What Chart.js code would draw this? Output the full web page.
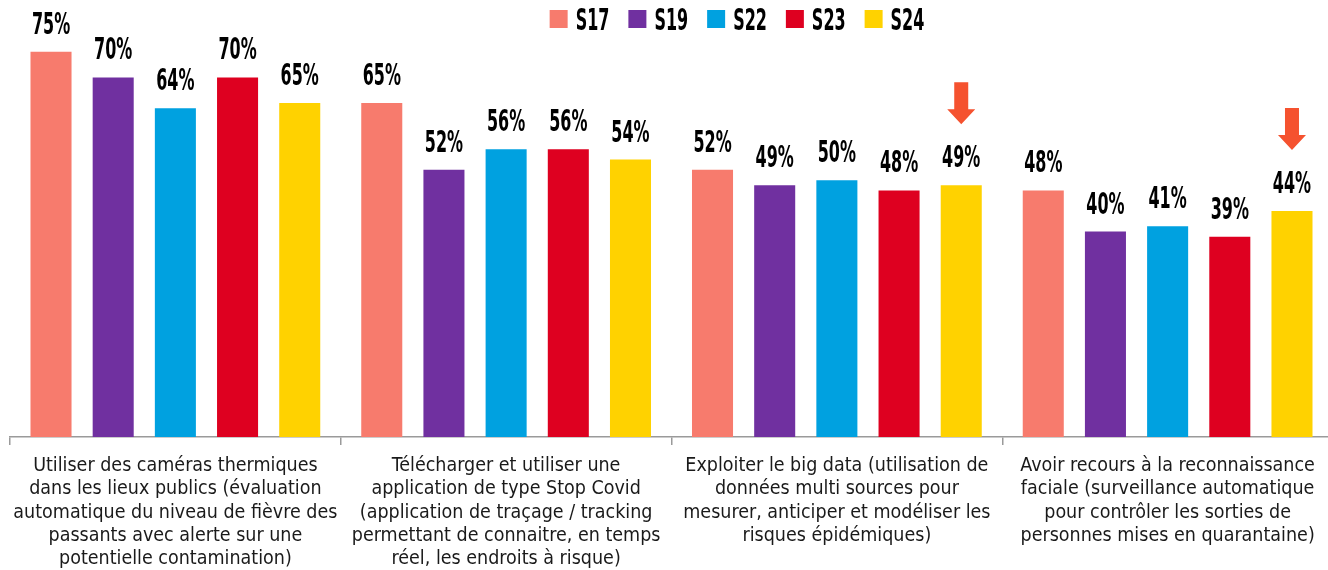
<!DOCTYPE html>
<html>
<head>
<meta charset="utf-8">
<script src="https://cdn.jsdelivr.net/npm/chart.js@4"></script>
<style>
    html, body { margin: 0; padding: 0; background: #fff; overflow: hidden; }
    #wrap { width: 1333px; height: 570px; }
</style>
</head>
<body>
<div id="wrap"><canvas id="surveyChart"></canvas></div>
<script>
const categories = [
    ["Utiliser des caméras thermiques", "dans les lieux publics (évaluation", "automatique du niveau de fièvre des", "passants avec alerte sur une", "potentielle contamination)"],
    ["Télécharger et utiliser une", "application de type Stop Covid", "(application de traçage / tracking", "permettant de connaitre, en temps", "réel, les endroits à risque)"],
    ["Exploiter le big data (utilisation de", "données multi sources pour", "mesurer, anticiper et modéliser les", "risques épidémiques)"],
    ["Avoir recours à la reconnaissance", "faciale (surveillance automatique", "pour contrôler les sorties de", "personnes mises en quarantaine)"]
];
const waves = ["S17", "S19", "S22", "S23", "S24"];
const s17 = [75, 65, 52, 48];
const s19 = [70, 52, 49, 40];
const s22 = [64, 56, 50, 41];
const s23 = [70, 56, 48, 39];
const s24 = [65, 54, 49, 44];
const waveColors = ["#F77B6D", "#7030A0", "#00A1E0", "#DE0020", "#FFD200"];
// bars flagged with a down arrow: [dataset, category]
const flagged = [[4, 2], [4, 3]];

const seriesValues = [s17, s19, s22, s23, s24];
const tallFont = "bold 24px 'DejaVu Sans Condensed', sans-serif";
const sx = 0.74, sy = 1.22;

function drawTall(ctx, text, x, y, align) {
    ctx.save();
    ctx.translate(x, y);
    ctx.scale(sx, sy);
    ctx.textAlign = align;
    ctx.textBaseline = "alphabetic";
    ctx.fillText(text, 0, 0);
    ctx.restore();
}

const valueLabels = {
    id: "valueLabels",
    afterDatasetsDraw(chart) {
        const ctx = chart.ctx;
        ctx.save();
        ctx.font = tallFont;
        ctx.fillStyle = "#000";
        chart.data.datasets.forEach((ds, i) => {
            chart.getDatasetMeta(i).data.forEach((bar, j) => {
                drawTall(ctx, ds.data[j] + "%", bar.x, bar.y - 18, "center");
            });
        });
        // arrows
        ctx.fillStyle = "#F5522F";
        flagged.forEach(([d, c]) => {
            const bar = chart.getDatasetMeta(d).data[c];
            const tip = bar.y - 61;
            ctx.beginPath();
            ctx.moveTo(bar.x - 7, tip - 42);
            ctx.lineTo(bar.x + 7, tip - 42);
            ctx.lineTo(bar.x + 7, tip - 15);
            ctx.lineTo(bar.x + 14, tip - 15);
            ctx.lineTo(bar.x, tip);
            ctx.lineTo(bar.x - 14, tip - 15);
            ctx.lineTo(bar.x - 7, tip - 15);
            ctx.closePath();
            ctx.fill();
        });
        ctx.restore();
    }
};

const topLegend = {
    id: "topLegend",
    afterDraw(chart) {
        const ctx = chart.ctx;
        ctx.save();
        ctx.font = tallFont;
        const items = chart.data.datasets.map(ds => ({ text: ds.label, color: ds.backgroundColor }));
        const box = 18, gap = 8, spacing = 19;
        let total = 0;
        items.forEach(it => { it.w = ctx.measureText(it.text).width * sx; total += box + gap + it.w; });
        total += spacing * (items.length - 1);
        let x = 737 - total / 2;
        items.forEach(it => {
            ctx.fillStyle = it.color;
            ctx.fillRect(x, 10, box, box);
            ctx.fillStyle = "#000";
            drawTall(ctx, it.text, x + box + gap, 30, "left");
            x += box + gap + it.w + spacing;
        });
        ctx.restore();
    }
};

new Chart(document.getElementById("surveyChart"), {
    type: "bar",
    data: {
        labels: categories,
        datasets: waves.map((w, i) => ({
            label: w,
            data: seriesValues[i],
            backgroundColor: waveColors[i],
            categoryPercentage: 0.94,
            barPercentage: 0.66
        }))
    },
    options: {
        responsive: true,
        maintainAspectRatio: false,
        animation: false,
        layout: { padding: { top: 26, left: 10, right: 0, bottom: 0 } },
        plugins: {
            legend: { display: false },
            tooltip: { enabled: false }
        },
        scales: {
            x: {
                afterFit: (s) => { s.height = 133; },
                grid: {
                    offset: true,
                    drawOnChartArea: false,
                    tickLength: 8,
                    color: "#9a9a9a",
                    lineWidth: 1.5
                },
                border: { color: "#9a9a9a", width: 1.5 },
                ticks: {
                    color: "#1a1a1a",
                    padding: 9,
                    maxRotation: 0,
                    autoSkip: false,
                    font: { family: "'DejaVu Sans Condensed', sans-serif", size: 19.5, lineHeight: 1.2 }
                }
            },
            y: {
                display: false,
                min: 0,
                max: 80
            }
        }
    },
    plugins: [valueLabels, topLegend]
});
</script>
</body>
</html>
